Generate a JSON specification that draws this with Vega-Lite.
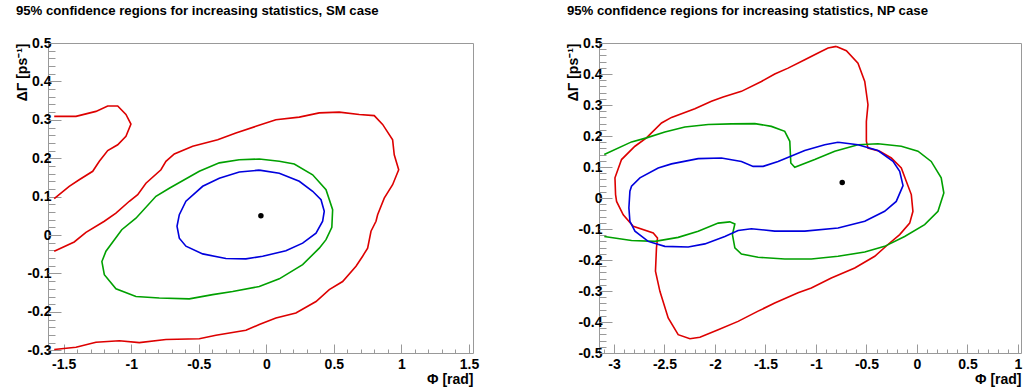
{
  "$schema": "https://vega.github.io/schema/vega-lite/v6.json",
  "padding": {"left": 15, "top": 3, "right": 0, "bottom": 5},
  "spacing": 86,
  "config": {
    "font": "Liberation Sans",
    "view": {"stroke": "#999999", "strokeWidth": 1},
    "axis": {"domain": false, "grid": false, "tickColor": "#999999", "tickWidth": 1, "labelFont": "Liberation Sans", "labelFontWeight": "bold", "labelFontSize": 14, "labelColor": "#000000", "titleFont": "Liberation Sans", "titleFontWeight": "bold", "titleFontSize": 14, "titleColor": "#000000"}
  },
  "datasets": {
    "left": [
      {"k":"r1","c":"r","i":0,"x":-1.570,"y":0.309},
      {"k":"r1","c":"r","i":1,"x":-1.409,"y":0.309},
      {"k":"r1","c":"r","i":2,"x":-1.261,"y":0.322},
      {"k":"r1","c":"r","i":3,"x":-1.174,"y":0.336},
      {"k":"r1","c":"r","i":4,"x":-1.100,"y":0.336},
      {"k":"r1","c":"r","i":5,"x":-1.039,"y":0.314},
      {"k":"r1","c":"r","i":6,"x":-1.002,"y":0.289},
      {"k":"r1","c":"r","i":7,"x":-1.039,"y":0.257},
      {"k":"r1","c":"r","i":8,"x":-1.100,"y":0.235},
      {"k":"r1","c":"r","i":9,"x":-1.174,"y":0.220},
      {"k":"r1","c":"r","i":10,"x":-1.236,"y":0.192},
      {"k":"r1","c":"r","i":11,"x":-1.285,"y":0.166},
      {"k":"r1","c":"r","i":12,"x":-1.385,"y":0.144},
      {"k":"r1","c":"r","i":13,"x":-1.459,"y":0.127},
      {"k":"r1","c":"r","i":14,"x":-1.570,"y":0.095},

      {"k":"r2","c":"r","i":0,"x":-1.570,"y":-0.042},
      {"k":"r2","c":"r","i":1,"x":-1.422,"y":-0.018},
      {"k":"r2","c":"r","i":2,"x":-1.335,"y":0.007},
      {"k":"r2","c":"r","i":3,"x":-1.199,"y":0.036},
      {"k":"r2","c":"r","i":4,"x":-1.113,"y":0.057},
      {"k":"r2","c":"r","i":5,"x":-1.014,"y":0.088},
      {"k":"r2","c":"r","i":6,"x":-0.952,"y":0.105},
      {"k":"r2","c":"r","i":7,"x":-0.891,"y":0.135},
      {"k":"r2","c":"r","i":8,"x":-0.780,"y":0.170},
      {"k":"r2","c":"r","i":9,"x":-0.743,"y":0.192},
      {"k":"r2","c":"r","i":10,"x":-0.681,"y":0.211},
      {"k":"r2","c":"r","i":11,"x":-0.545,"y":0.231},
      {"k":"r2","c":"r","i":12,"x":-0.360,"y":0.248},
      {"k":"r2","c":"r","i":13,"x":-0.225,"y":0.266},
      {"k":"r2","c":"r","i":14,"x":-0.077,"y":0.283},
      {"k":"r2","c":"r","i":15,"x":0.071,"y":0.300},
      {"k":"r2","c":"r","i":16,"x":0.244,"y":0.307},
      {"k":"r2","c":"r","i":17,"x":0.392,"y":0.318},
      {"k":"r2","c":"r","i":18,"x":0.540,"y":0.320},
      {"k":"r2","c":"r","i":19,"x":0.688,"y":0.314},
      {"k":"r2","c":"r","i":20,"x":0.799,"y":0.311},
      {"k":"r2","c":"r","i":21,"x":0.861,"y":0.288},
      {"k":"r2","c":"r","i":22,"x":0.935,"y":0.248},
      {"k":"r2","c":"r","i":23,"x":0.947,"y":0.209},
      {"k":"r2","c":"r","i":24,"x":0.980,"y":0.170},
      {"k":"r2","c":"r","i":25,"x":0.935,"y":0.131},
      {"k":"r2","c":"r","i":26,"x":0.873,"y":0.096},
      {"k":"r2","c":"r","i":27,"x":0.824,"y":0.053},
      {"k":"r2","c":"r","i":28,"x":0.812,"y":0.036},
      {"k":"r2","c":"r","i":29,"x":0.775,"y":0.010},
      {"k":"r2","c":"r","i":30,"x":0.750,"y":-0.034},
      {"k":"r2","c":"r","i":31,"x":0.713,"y":-0.055},
      {"k":"r2","c":"r","i":32,"x":0.664,"y":-0.081},
      {"k":"r2","c":"r","i":33,"x":0.565,"y":-0.121},
      {"k":"r2","c":"r","i":34,"x":0.466,"y":-0.142},
      {"k":"r2","c":"r","i":35,"x":0.368,"y":-0.173},
      {"k":"r2","c":"r","i":36,"x":0.219,"y":-0.203},
      {"k":"r2","c":"r","i":37,"x":0.071,"y":-0.216},
      {"k":"r2","c":"r","i":38,"x":-0.052,"y":-0.233},
      {"k":"r2","c":"r","i":39,"x":-0.151,"y":-0.248},
      {"k":"r2","c":"r","i":40,"x":-0.373,"y":-0.261},
      {"k":"r2","c":"r","i":41,"x":-0.496,"y":-0.270},
      {"k":"r2","c":"r","i":42,"x":-0.743,"y":-0.272},
      {"k":"r2","c":"r","i":43,"x":-0.940,"y":-0.280},
      {"k":"r2","c":"r","i":44,"x":-1.088,"y":-0.275},
      {"k":"r2","c":"r","i":45,"x":-1.261,"y":-0.279},
      {"k":"r2","c":"r","i":46,"x":-1.409,"y":-0.292},
      {"k":"r2","c":"r","i":47,"x":-1.570,"y":-0.298},

      {"k":"g","c":"g","i":0,"x":-0.200,"y":0.196},
      {"k":"g","c":"g","i":1,"x":-0.052,"y":0.198},
      {"k":"g","c":"g","i":2,"x":0.096,"y":0.192},
      {"k":"g","c":"g","i":3,"x":0.207,"y":0.185},
      {"k":"g","c":"g","i":4,"x":0.343,"y":0.157},
      {"k":"g","c":"g","i":5,"x":0.442,"y":0.118},
      {"k":"g","c":"g","i":6,"x":0.491,"y":0.066},
      {"k":"g","c":"g","i":7,"x":0.485,"y":0.020},
      {"k":"g","c":"g","i":8,"x":0.442,"y":-0.012},
      {"k":"g","c":"g","i":9,"x":0.392,"y":-0.034},
      {"k":"g","c":"g","i":10,"x":0.269,"y":-0.077},
      {"k":"g","c":"g","i":11,"x":0.096,"y":-0.114},
      {"k":"g","c":"g","i":12,"x":-0.052,"y":-0.134},
      {"k":"g","c":"g","i":13,"x":-0.249,"y":-0.147},
      {"k":"g","c":"g","i":14,"x":-0.397,"y":-0.155},
      {"k":"g","c":"g","i":15,"x":-0.570,"y":-0.166},
      {"k":"g","c":"g","i":16,"x":-0.792,"y":-0.164},
      {"k":"g","c":"g","i":17,"x":-0.965,"y":-0.160},
      {"k":"g","c":"g","i":18,"x":-1.113,"y":-0.140},
      {"k":"g","c":"g","i":19,"x":-1.199,"y":-0.103},
      {"k":"g","c":"g","i":20,"x":-1.217,"y":-0.069},
      {"k":"g","c":"g","i":21,"x":-1.187,"y":-0.042},
      {"k":"g","c":"g","i":22,"x":-1.070,"y":0.014},
      {"k":"g","c":"g","i":23,"x":-0.965,"y":0.044},
      {"k":"g","c":"g","i":24,"x":-0.817,"y":0.101},
      {"k":"g","c":"g","i":25,"x":-0.718,"y":0.122},
      {"k":"g","c":"g","i":26,"x":-0.496,"y":0.166},
      {"k":"g","c":"g","i":27,"x":-0.348,"y":0.188},
      {"k":"g","c":"g","i":28,"x":-0.200,"y":0.196},

      {"k":"b","c":"b","i":0,"x":-0.052,"y":0.169},
      {"k":"b","c":"b","i":1,"x":0.096,"y":0.161},
      {"k":"b","c":"b","i":2,"x":0.244,"y":0.140},
      {"k":"b","c":"b","i":3,"x":0.343,"y":0.114},
      {"k":"b","c":"b","i":4,"x":0.405,"y":0.092},
      {"k":"b","c":"b","i":5,"x":0.429,"y":0.062},
      {"k":"b","c":"b","i":6,"x":0.417,"y":0.036},
      {"k":"b","c":"b","i":7,"x":0.368,"y":0.005},
      {"k":"b","c":"b","i":8,"x":0.269,"y":-0.021},
      {"k":"b","c":"b","i":9,"x":0.145,"y":-0.041},
      {"k":"b","c":"b","i":10,"x":-0.027,"y":-0.055},
      {"k":"b","c":"b","i":11,"x":-0.151,"y":-0.062},
      {"k":"b","c":"b","i":12,"x":-0.299,"y":-0.061},
      {"k":"b","c":"b","i":13,"x":-0.471,"y":-0.049},
      {"k":"b","c":"b","i":14,"x":-0.595,"y":-0.029},
      {"k":"b","c":"b","i":15,"x":-0.644,"y":-0.008},
      {"k":"b","c":"b","i":16,"x":-0.661,"y":0.023},
      {"k":"b","c":"b","i":17,"x":-0.644,"y":0.053},
      {"k":"b","c":"b","i":18,"x":-0.595,"y":0.088},
      {"k":"b","c":"b","i":19,"x":-0.471,"y":0.127},
      {"k":"b","c":"b","i":20,"x":-0.348,"y":0.148},
      {"k":"b","c":"b","i":21,"x":-0.200,"y":0.164},
      {"k":"b","c":"b","i":22,"x":-0.052,"y":0.169}
    ],
    "leftDot": [{"x": -0.04, "y": 0.05}],
    "right": [
      {"k":"r","c":"r","i":0,"x":-0.798,"y":0.489},
      {"k":"r","c":"r","i":1,"x":-0.880,"y":0.484},
      {"k":"r","c":"r","i":2,"x":-0.979,"y":0.468},
      {"k":"r","c":"r","i":3,"x":-1.111,"y":0.446},
      {"k":"r","c":"r","i":4,"x":-1.276,"y":0.419},
      {"k":"r","c":"r","i":5,"x":-1.408,"y":0.400},
      {"k":"r","c":"r","i":6,"x":-1.540,"y":0.376},
      {"k":"r","c":"r","i":7,"x":-1.738,"y":0.344},
      {"k":"r","c":"r","i":8,"x":-1.919,"y":0.326},
      {"k":"r","c":"r","i":9,"x":-2.035,"y":0.312},
      {"k":"r","c":"r","i":10,"x":-2.199,"y":0.288},
      {"k":"r","c":"r","i":11,"x":-2.430,"y":0.260},
      {"k":"r","c":"r","i":12,"x":-2.529,"y":0.242},
      {"k":"r","c":"r","i":13,"x":-2.678,"y":0.194},
      {"k":"r","c":"r","i":14,"x":-2.792,"y":0.167},
      {"k":"r","c":"r","i":15,"x":-2.925,"y":0.124},
      {"k":"r","c":"r","i":16,"x":-2.990,"y":0.065},
      {"k":"r","c":"r","i":17,"x":-2.984,"y":0.011},
      {"k":"r","c":"r","i":18,"x":-2.974,"y":-0.011},
      {"k":"r","c":"r","i":19,"x":-2.908,"y":-0.054},
      {"k":"r","c":"r","i":20,"x":-2.809,"y":-0.091},
      {"k":"r","c":"r","i":21,"x":-2.611,"y":-0.113},
      {"k":"r","c":"r","i":22,"x":-2.569,"y":-0.129},
      {"k":"r","c":"r","i":23,"x":-2.579,"y":-0.161},
      {"k":"r","c":"r","i":24,"x":-2.589,"y":-0.236},
      {"k":"r","c":"r","i":25,"x":-2.545,"y":-0.301},
      {"k":"r","c":"r","i":26,"x":-2.463,"y":-0.387},
      {"k":"r","c":"r","i":27,"x":-2.364,"y":-0.441},
      {"k":"r","c":"r","i":28,"x":-2.248,"y":-0.454},
      {"k":"r","c":"r","i":29,"x":-2.149,"y":-0.449},
      {"k":"r","c":"r","i":30,"x":-1.968,"y":-0.425},
      {"k":"r","c":"r","i":31,"x":-1.771,"y":-0.398},
      {"k":"r","c":"r","i":32,"x":-1.573,"y":-0.365},
      {"k":"r","c":"r","i":33,"x":-1.408,"y":-0.339},
      {"k":"r","c":"r","i":34,"x":-1.177,"y":-0.306},
      {"k":"r","c":"r","i":35,"x":-1.046,"y":-0.290},
      {"k":"r","c":"r","i":36,"x":-0.848,"y":-0.258},
      {"k":"r","c":"r","i":37,"x":-0.616,"y":-0.226},
      {"k":"r","c":"r","i":38,"x":-0.418,"y":-0.188},
      {"k":"r","c":"r","i":39,"x":-0.287,"y":-0.150},
      {"k":"r","c":"r","i":40,"x":-0.171,"y":-0.118},
      {"k":"r","c":"r","i":41,"x":-0.072,"y":-0.081},
      {"k":"r","c":"r","i":42,"x":-0.040,"y":-0.043},
      {"k":"r","c":"r","i":43,"x":-0.056,"y":0.011},
      {"k":"r","c":"r","i":44,"x":-0.106,"y":0.054},
      {"k":"r","c":"r","i":45,"x":-0.155,"y":0.097},
      {"k":"r","c":"r","i":46,"x":-0.254,"y":0.129},
      {"k":"r","c":"r","i":47,"x":-0.369,"y":0.151},
      {"k":"r","c":"r","i":48,"x":-0.485,"y":0.161},
      {"k":"r","c":"r","i":49,"x":-0.501,"y":0.183},
      {"k":"r","c":"r","i":50,"x":-0.501,"y":0.247},
      {"k":"r","c":"r","i":51,"x":-0.485,"y":0.301},
      {"k":"r","c":"r","i":52,"x":-0.517,"y":0.376},
      {"k":"r","c":"r","i":53,"x":-0.584,"y":0.435},
      {"k":"r","c":"r","i":54,"x":-0.699,"y":0.475},
      {"k":"r","c":"r","i":55,"x":-0.798,"y":0.489},

      {"k":"g","c":"g","i":0,"x":-3.096,"y":0.140},
      {"k":"g","c":"g","i":1,"x":-2.826,"y":0.181},
      {"k":"g","c":"g","i":2,"x":-2.678,"y":0.194},
      {"k":"g","c":"g","i":3,"x":-2.496,"y":0.213},
      {"k":"g","c":"g","i":4,"x":-2.298,"y":0.229},
      {"k":"g","c":"g","i":5,"x":-2.067,"y":0.237},
      {"k":"g","c":"g","i":6,"x":-1.837,"y":0.239},
      {"k":"g","c":"g","i":7,"x":-1.605,"y":0.240},
      {"k":"g","c":"g","i":8,"x":-1.441,"y":0.231},
      {"k":"g","c":"g","i":9,"x":-1.309,"y":0.215},
      {"k":"g","c":"g","i":10,"x":-1.259,"y":0.183},
      {"k":"g","c":"g","i":11,"x":-1.249,"y":0.113},
      {"k":"g","c":"g","i":12,"x":-1.210,"y":0.099},
      {"k":"g","c":"g","i":13,"x":-1.012,"y":0.124},
      {"k":"g","c":"g","i":14,"x":-0.814,"y":0.151},
      {"k":"g","c":"g","i":15,"x":-0.584,"y":0.172},
      {"k":"g","c":"g","i":16,"x":-0.386,"y":0.175},
      {"k":"g","c":"g","i":17,"x":-0.155,"y":0.167},
      {"k":"g","c":"g","i":18,"x":0.010,"y":0.151},
      {"k":"g","c":"g","i":19,"x":0.141,"y":0.118},
      {"k":"g","c":"g","i":20,"x":0.240,"y":0.065},
      {"k":"g","c":"g","i":21,"x":0.266,"y":0.016},
      {"k":"g","c":"g","i":22,"x":0.208,"y":-0.043},
      {"k":"g","c":"g","i":23,"x":0.076,"y":-0.086},
      {"k":"g","c":"g","i":24,"x":-0.122,"y":-0.124},
      {"k":"g","c":"g","i":25,"x":-0.320,"y":-0.156},
      {"k":"g","c":"g","i":26,"x":-0.517,"y":-0.174},
      {"k":"g","c":"g","i":27,"x":-0.781,"y":-0.188},
      {"k":"g","c":"g","i":28,"x":-1.046,"y":-0.197},
      {"k":"g","c":"g","i":29,"x":-1.309,"y":-0.197},
      {"k":"g","c":"g","i":30,"x":-1.573,"y":-0.191},
      {"k":"g","c":"g","i":31,"x":-1.738,"y":-0.181},
      {"k":"g","c":"g","i":32,"x":-1.803,"y":-0.161},
      {"k":"g","c":"g","i":33,"x":-1.827,"y":-0.118},
      {"k":"g","c":"g","i":34,"x":-1.803,"y":-0.084},
      {"k":"g","c":"g","i":35,"x":-1.853,"y":-0.077},
      {"k":"g","c":"g","i":36,"x":-1.968,"y":-0.081},
      {"k":"g","c":"g","i":37,"x":-2.166,"y":-0.107},
      {"k":"g","c":"g","i":38,"x":-2.364,"y":-0.127},
      {"k":"g","c":"g","i":39,"x":-2.594,"y":-0.140},
      {"k":"g","c":"g","i":40,"x":-2.826,"y":-0.137},
      {"k":"g","c":"g","i":41,"x":-3.096,"y":-0.124},

      {"k":"b","c":"b","i":0,"x":-0.781,"y":0.180},
      {"k":"b","c":"b","i":1,"x":-0.584,"y":0.172},
      {"k":"b","c":"b","i":2,"x":-0.386,"y":0.153},
      {"k":"b","c":"b","i":3,"x":-0.237,"y":0.118},
      {"k":"b","c":"b","i":4,"x":-0.171,"y":0.086},
      {"k":"b","c":"b","i":5,"x":-0.138,"y":0.040},
      {"k":"b","c":"b","i":6,"x":-0.205,"y":-0.011},
      {"k":"b","c":"b","i":7,"x":-0.320,"y":-0.043},
      {"k":"b","c":"b","i":8,"x":-0.517,"y":-0.075},
      {"k":"b","c":"b","i":9,"x":-0.781,"y":-0.097},
      {"k":"b","c":"b","i":10,"x":-1.111,"y":-0.107},
      {"k":"b","c":"b","i":11,"x":-1.408,"y":-0.107},
      {"k":"b","c":"b","i":12,"x":-1.639,"y":-0.099},
      {"k":"b","c":"b","i":13,"x":-1.771,"y":-0.105},
      {"k":"b","c":"b","i":14,"x":-1.902,"y":-0.124},
      {"k":"b","c":"b","i":15,"x":-2.100,"y":-0.148},
      {"k":"b","c":"b","i":16,"x":-2.265,"y":-0.158},
      {"k":"b","c":"b","i":17,"x":-2.496,"y":-0.156},
      {"k":"b","c":"b","i":18,"x":-2.661,"y":-0.140},
      {"k":"b","c":"b","i":19,"x":-2.792,"y":-0.107},
      {"k":"b","c":"b","i":20,"x":-2.842,"y":-0.075},
      {"k":"b","c":"b","i":21,"x":-2.852,"y":-0.032},
      {"k":"b","c":"b","i":22,"x":-2.842,"y":0.022},
      {"k":"b","c":"b","i":23,"x":-2.826,"y":0.038},
      {"k":"b","c":"b","i":24,"x":-2.743,"y":0.065},
      {"k":"b","c":"b","i":25,"x":-2.562,"y":0.097},
      {"k":"b","c":"b","i":26,"x":-2.430,"y":0.110},
      {"k":"b","c":"b","i":27,"x":-2.166,"y":0.127},
      {"k":"b","c":"b","i":28,"x":-1.936,"y":0.129},
      {"k":"b","c":"b","i":29,"x":-1.738,"y":0.118},
      {"k":"b","c":"b","i":30,"x":-1.622,"y":0.102},
      {"k":"b","c":"b","i":31,"x":-1.523,"y":0.102},
      {"k":"b","c":"b","i":32,"x":-1.375,"y":0.118},
      {"k":"b","c":"b","i":33,"x":-1.111,"y":0.153},
      {"k":"b","c":"b","i":34,"x":-0.913,"y":0.172},
      {"k":"b","c":"b","i":35,"x":-0.781,"y":0.180}
    ],
    "rightDot": [{"x": -0.74, "y": 0.05}]
  },
  "hconcat": [
    {
      "title": {"text": "95% confidence regions for increasing statistics, SM case", "anchor": "start", "fontSize": 13.2, "fontWeight": "bold", "font": "Liberation Sans", "color": "#000000", "offset": 18},
      "width": 425,
      "height": 310,
      "layer": [
        {
          "data": {"name": "left"},
          "mark": {"type": "line", "strokeWidth": 1.6, "clip": true},
          "encoding": {
            "x": {"field": "x", "type": "quantitative", "scale": {"domain": [-1.616, 1.53], "nice": false, "zero": false},
                  "axis": {"orient": "bottom", "values": [-1.5, -1, -0.5, 0, 0.5, 1, 1.5], "labelExpr": "'' + datum.value", "tickSize": -9, "labelPadding": 13, "title": "Φ [rad]", "titleAnchor": "end", "titlePadding": 1}},
            "y": {"field": "y", "type": "quantitative", "scale": {"domain": [-0.307, 0.5], "nice": false, "zero": false},
                  "axis": {"orient": "left", "values": [-0.3, -0.2, -0.1, 0, 0.1, 0.2, 0.3, 0.4, 0.5], "labelExpr": "'' + datum.value", "tickSize": -13, "labelPadding": 10, "title": "ΔΓ  [ps⁻¹]", "titleAnchor": "end", "titlePadding": -3}},
            "color": {"field": "c", "type": "nominal", "scale": {"domain": ["r", "g", "b"], "range": ["#dd0000", "#00a000", "#0000dd"]}, "legend": null},
            "detail": {"field": "k", "type": "nominal"},
            "order": {"field": "i", "type": "quantitative"}
          }
        },
        {
          "data": {"name": "leftDot"},
          "mark": {"type": "point", "filled": true, "color": "#000000", "opacity": 1, "size": 30},
          "encoding": {
            "x": {"field": "x", "type": "quantitative",
                  "axis": {"orient": "bottom", "labels": false, "title": null, "tickSize": -4, "values": [-1.6, -1.5, -1.4, -1.3, -1.2, -1.1, -1, -0.9, -0.8, -0.7, -0.6, -0.5, -0.4, -0.3, -0.2, -0.1, 0, 0.1, 0.2, 0.3, 0.4, 0.5, 0.6, 0.7, 0.8, 0.9, 1, 1.1, 1.2, 1.3, 1.4, 1.5]}},
            "y": {"field": "y", "type": "quantitative",
                  "axis": {"orient": "left", "labels": false, "title": null, "tickSize": -7, "values": [-0.3, -0.28, -0.26, -0.24, -0.22, -0.2, -0.18, -0.16, -0.14, -0.12, -0.1, -0.08, -0.06, -0.04, -0.02, 0, 0.02, 0.04, 0.06, 0.08, 0.1, 0.12, 0.14, 0.16, 0.18, 0.2, 0.22, 0.24, 0.26, 0.28, 0.3, 0.32, 0.34, 0.36, 0.38, 0.4, 0.42, 0.44, 0.46, 0.48, 0.5]}}
          }
        }
      ],
      "resolve": {"axis": {"x": "independent", "y": "independent"}}
    },
    {
      "title": {"text": "95% confidence regions for increasing statistics, NP case", "anchor": "start", "fontSize": 13.2, "fontWeight": "bold", "font": "Liberation Sans", "color": "#000000", "offset": 18},
      "width": 422,
      "height": 310,
      "layer": [
        {
          "data": {"name": "right"},
          "mark": {"type": "line", "strokeWidth": 1.6, "clip": true},
          "encoding": {
            "x": {"field": "x", "type": "quantitative", "scale": {"domain": [-3.148, 1.03], "nice": false, "zero": false},
                  "axis": {"orient": "bottom", "values": [-3, -2.5, -2, -1.5, -1, -0.5, 0, 0.5, 1], "labelExpr": "'' + datum.value", "tickSize": -9, "labelPadding": 13, "title": "Φ [rad]", "titleAnchor": "end", "titlePadding": 1}},
            "y": {"field": "y", "type": "quantitative", "scale": {"domain": [-0.5, 0.5], "nice": false, "zero": false},
                  "axis": {"orient": "left", "values": [-0.5, -0.4, -0.3, -0.2, -0.1, 0, 0.1, 0.2, 0.3, 0.4, 0.5], "labelExpr": "'' + datum.value", "tickSize": -13, "labelPadding": 10, "title": "ΔΓ  [ps⁻¹]", "titleAnchor": "end", "titlePadding": -3}},
            "color": {"field": "c", "type": "nominal", "scale": {"domain": ["r", "g", "b"], "range": ["#dd0000", "#00a000", "#0000dd"]}, "legend": null},
            "detail": {"field": "k", "type": "nominal"},
            "order": {"field": "i", "type": "quantitative"}
          }
        },
        {
          "data": {"name": "rightDot"},
          "mark": {"type": "point", "filled": true, "color": "#000000", "opacity": 1, "size": 30},
          "encoding": {
            "x": {"field": "x", "type": "quantitative",
                  "axis": {"orient": "bottom", "labels": false, "title": null, "tickSize": -4, "values": [-3.1, -3, -2.9, -2.8, -2.7, -2.6, -2.5, -2.4, -2.3, -2.2, -2.1, -2, -1.9, -1.8, -1.7, -1.6, -1.5, -1.4, -1.3, -1.2, -1.1, -1, -0.9, -0.8, -0.7, -0.6, -0.5, -0.4, -0.3, -0.2, -0.1, 0, 0.1, 0.2, 0.3, 0.4, 0.5, 0.6, 0.7, 0.8, 0.9, 1]}},
            "y": {"field": "y", "type": "quantitative",
                  "axis": {"orient": "left", "labels": false, "title": null, "tickSize": -7, "values": [-0.5, -0.48, -0.46, -0.44, -0.42, -0.4, -0.38, -0.36, -0.34, -0.32, -0.3, -0.28, -0.26, -0.24, -0.22, -0.2, -0.18, -0.16, -0.14, -0.12, -0.1, -0.08, -0.06, -0.04, -0.02, 0, 0.02, 0.04, 0.06, 0.08, 0.1, 0.12, 0.14, 0.16, 0.18, 0.2, 0.22, 0.24, 0.26, 0.28, 0.3, 0.32, 0.34, 0.36, 0.38, 0.4, 0.42, 0.44, 0.46, 0.48, 0.5]}}
          }
        }
      ],
      "resolve": {"axis": {"x": "independent", "y": "independent"}}
    }
  ]
}
